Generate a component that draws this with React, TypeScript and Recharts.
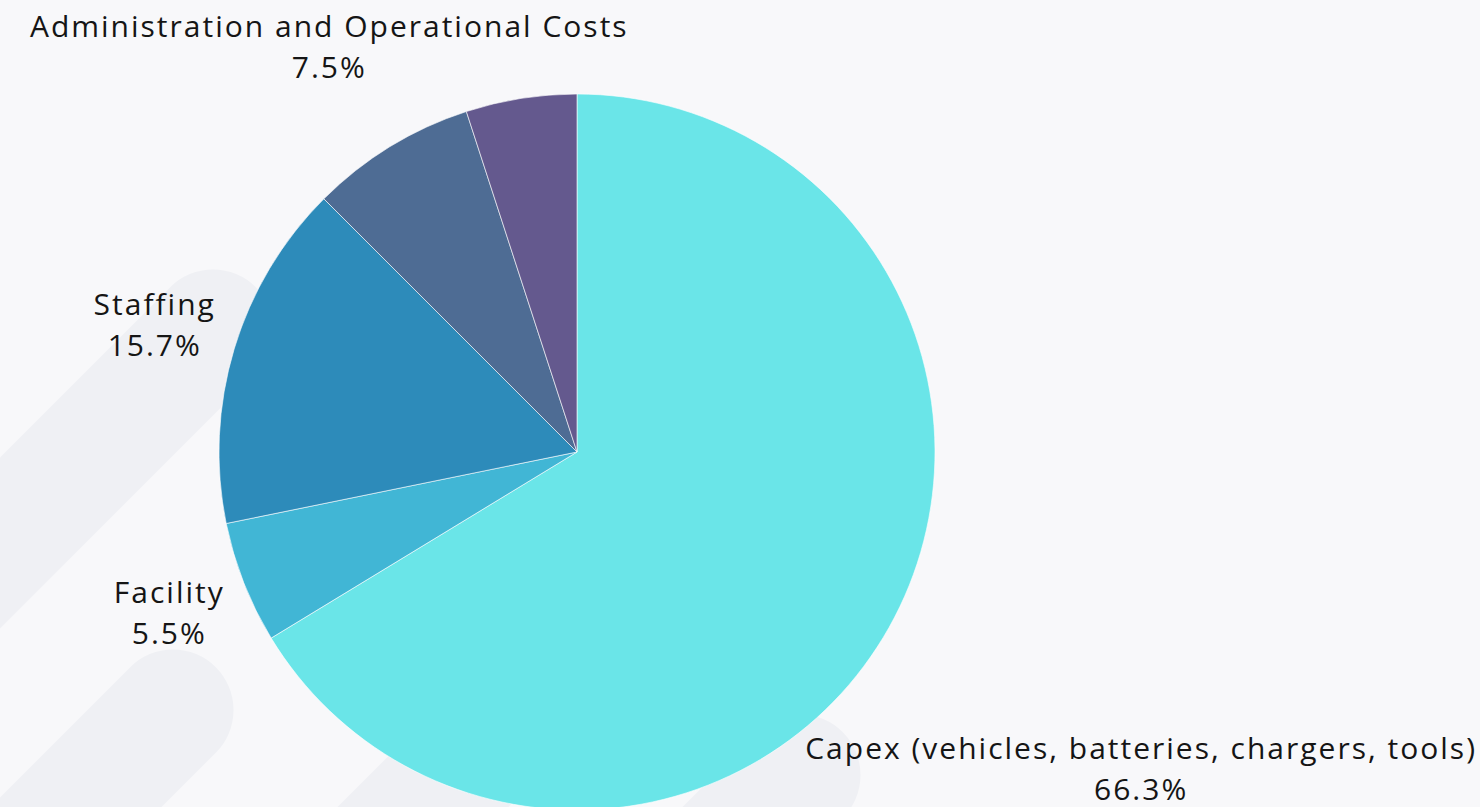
import React from 'react'
import { PieChart, Pie, Cell } from 'recharts'

const categories = [
    'Capex (vehicles, batteries, chargers, tools)',
    'Facility',
    'Staffing',
    'Administration and Operational Costs',
    'Other',
]
const shares = [66.3, 5.5, 15.7, 7.5, 5.0]
const colors = ['#6ae5e8', '#41b6d5', '#2d8bba', '#4e6c94', '#64598e']

// distance from the pie centre to the middle of each label block
const labelDistance: Record<string, number> = {
    'Capex (vehicles, batteries, chargers, tools)': 646,
    Facility: 439,
    Staffing: 442,
    'Administration and Operational Costs': 476,
}

const data = categories.map((name, i) => ({ name, value: shares[i] }))

const RAD = Math.PI / 180
const FONT = "'Open Sans', sans-serif"

function renderLabel(props: any) {
    const { cx, cy, midAngle, name, value } = props
    const dist = labelDistance[name]
    if (!dist) return null
    const x = cx + dist * Math.cos(-midAngle * RAD) + 1
    const y = cy + dist * Math.sin(-midAngle * RAD)
    return (
        <text x={x} y={y} textAnchor="middle" fill="#151515" fontFamily={FONT} fontSize={30} letterSpacing={2}>
            <tspan x={x} y={y - 9.5}>{name}</tspan>
            <tspan x={x} y={y + 31.5}>{value.toFixed(1)}%</tspan>
        </text>
    )
}

function Backdrop() {
    const band = { stroke: '#eff0f4', strokeWidth: 121, strokeLinecap: 'round' as const }
    return (
        <svg width={1480} height={807} style={{ position: 'absolute', left: 0, top: 0 }}>
            <rect width={1480} height={807} fill="#f8f8fa" />
            <line x1={213} y1={330} x2={-300} y2={843} {...band} />
            <line x1={173} y1={710} x2={-200} y2={1083} {...band} />
            <line x1={800} y1={775} x2={500} y2={1075} {...band} />
            <line x1={600} y1={630} x2={200} y2={1030} {...band} />
        </svg>
    )
}

export default function App() {
    return (
        <div style={{ position: 'fixed', left: 0, top: 0, width: 1480, height: 807, overflow: 'hidden' }}>
            <Backdrop />
            <div style={{ position: 'absolute', left: 0, top: 0 }}>
                <PieChart width={1480} height={807} margin={{ top: 0, right: 0, bottom: 0, left: 0 }}>
                    <Pie
                        data={data}
                        dataKey="value"
                        nameKey="name"
                        cx={577}
                        cy={452}
                        outerRadius={358}
                        startAngle={90}
                        endAngle={-270}
                        stroke="#ffffff"
                        strokeWidth={0.6}
                        label={renderLabel}
                        labelLine={false}
                        isAnimationActive={false}
                    >
                        {data.map((d, i) => (
                            <Cell key={d.name} fill={colors[i]} />
                        ))}
                    </Pie>
                </PieChart>
            </div>
        </div>
    )
}
